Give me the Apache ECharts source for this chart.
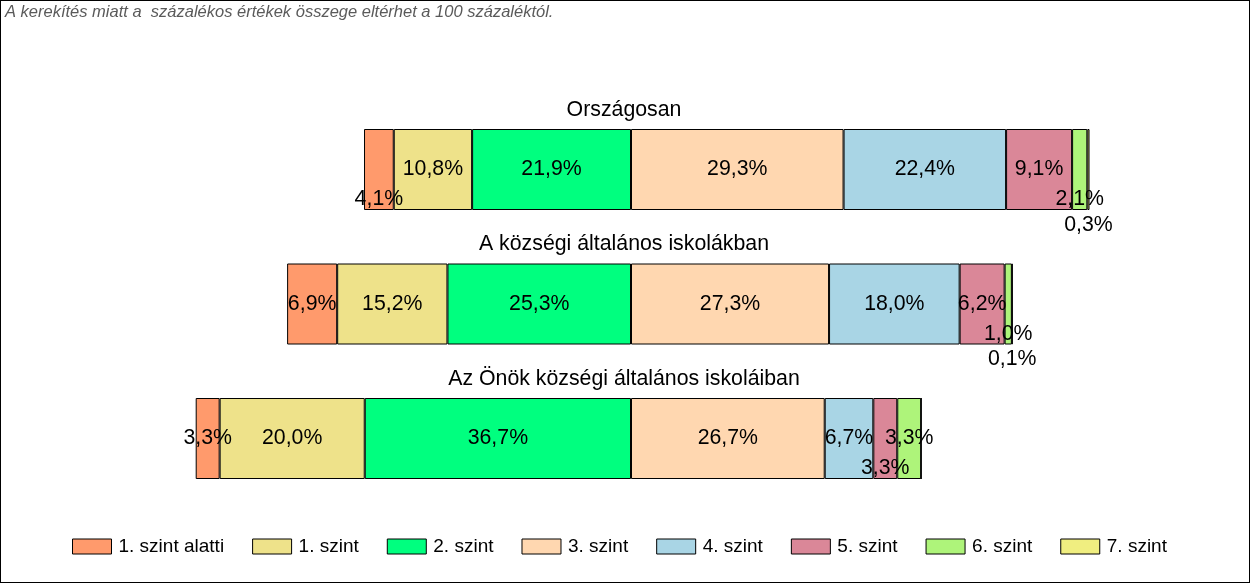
<!DOCTYPE html>
<html>
<head>
<meta charset="utf-8">
<script src="https://cdn.jsdelivr.net/npm/echarts@6/dist/echarts.min.js"></script>
<style>
  html, body { margin: 0; padding: 0; background: #fff; }
  #wrap { width: 1248px; height: 581px; border: 1px solid #000; }
  #chart { width: 1248px; height: 581px; }
</style>
</head>
<body>
<div id="wrap"><div id="chart"></div></div>
<script>
// ---- data ----
const categories = ['Országosan', 'A községi általános iskolákban', 'Az Önök községi általános iskoláiban'];
const levels = ['1. szint alatti', '1. szint', '2. szint', '3. szint', '4. szint', '5. szint', '6. szint', '7. szint'];
const szintAlatti = [4.1, 6.9, 3.3];
const szint1 = [10.8, 15.2, 20.0];
const szint2 = [21.9, 25.3, 36.7];
const szint3 = [29.3, 27.3, 26.7];
const szint4 = [22.4, 18.0, 6.7];
const szint5 = [9.1, 6.2, 3.3];
const szint6 = [2.1, 1.0, 3.3];
const szint7 = [0.3, 0.1, 0.0];
const noteText = 'A kerekítés miatt a  százalékos értékek összege eltérhet a 100 százaléktól.';

// ---- styles ----
const colors = ['#FF9A6C', '#EEE28A', '#00FF7F', '#FFD7B0', '#A9D5E5', '#DA8798', '#AEF47A', '#F0EE80'];
const FONT = '"Liberation Sans", Arial, sans-serif';
// special label placements (series index, row index) for narrow segments
const labelPlacement = {
  '0-0': { position: 'insideBottom', distance: 0 },
  '6-0': { position: 'insideBottom', distance: 0 },
  '7-0': { position: 'bottom', distance: 5 },
  '6-1': { position: 'insideBottom', distance: 0 },
  '7-1': { position: 'bottom', distance: 4 },
  '5-2': { position: 'insideBottom', distance: 0 }
};

const values = [szintAlatti, szint1, szint2, szint3, szint4, szint5, szint6, szint7];
const negative = [true, true, true, false, false, false, false, false];
// stacking order: levels below 3 go left from the centre, nearest first
const order = [2, 1, 0, 3, 4, 5, 6, 7];

function fmt(v) {
  return Math.abs(v).toFixed(1).replace('.', ',') + '%';
}

const series = order.map(function (li) {
  return {
    name: levels[li],
    type: 'bar',
    stack: 'total',
    barWidth: 81,
    itemStyle: { color: colors[li], borderColor: '#000', borderWidth: 1 },
    emphasis: { disabled: true },
    label: {
      show: true, position: 'inside', color: '#000', fontSize: 21.3, fontFamily: FONT,
      formatter: function (p) { return Math.abs(p.value) > 0 ? fmt(p.value) : ''; }
    },
    data: values[li].map(function (v, ri) {
      const item = { value: negative[li] ? -v : v };
      const lp = labelPlacement[li + '-' + ri];
      if (lp) item.label = lp;
      return item;
    })
  };
});

const chart = echarts.init(document.getElementById('chart'), null, { renderer: 'canvas' });
const titleY = [109.5, 243.5, 378.5];
chart.setOption({
  animation: false,
  backgroundColor: '#fff',
  grid: { left: 49.6, right: 37.6, top: 101.25, height: 403.5, containLabel: false },
  xAxis: { type: 'value', min: -80, max: 80, show: false },
  yAxis: { type: 'category', data: categories, inverse: true, show: false },
  legend: {
    data: levels, left: 71, top: 536, padding: 0,
    itemWidth: 39, itemHeight: 15, itemGap: 28, icon: 'rect',
    itemStyle: { borderColor: '#000', borderWidth: 1 },
    textStyle: { color: '#000', fontSize: 19, fontFamily: FONT, padding: [0, 0, 0, 2] },
    selectedMode: false
  },
  graphic: [
    { type: 'text', left: 4, top: 3, style: { text: noteText, font: 'italic 16.5px ' + FONT, fill: '#5a5a5a' } }
  ].concat(categories.map(function (c, i) {
    return { type: 'text', x: 623, y: titleY[i], style: { text: c, fontSize: 21.3, fontFamily: FONT, fill: '#000', textAlign: 'center', textVerticalAlign: 'middle' } };
  })),
  series: series
});
</script>
</body>
</html>
